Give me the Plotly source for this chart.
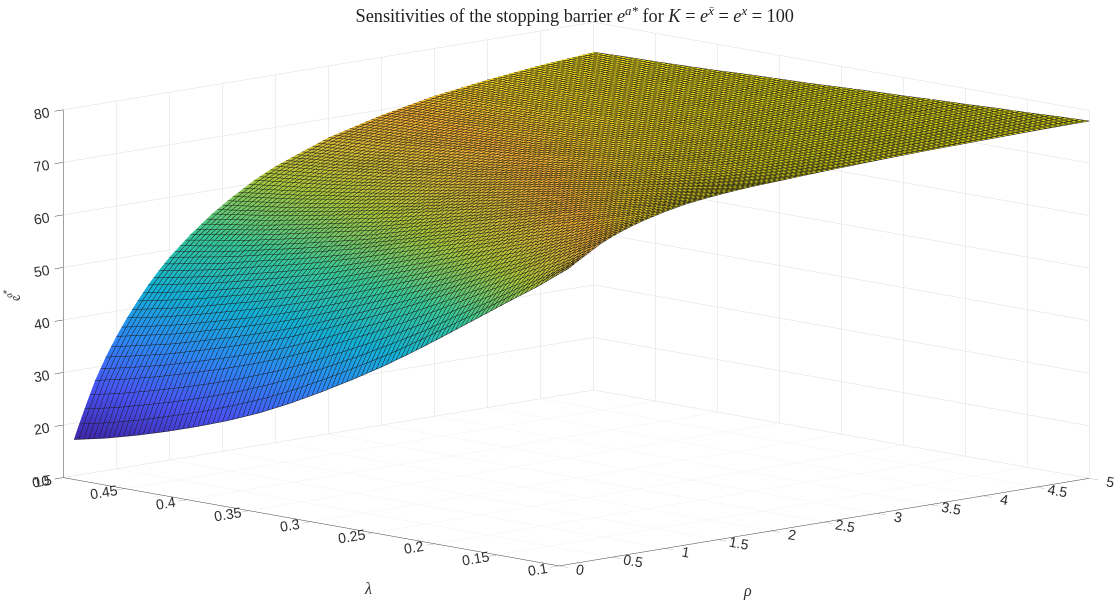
import plotly.graph_objects as go

rho = [0.1, 0.15, 0.2, 0.3, 0.4, 0.5, 0.6, 0.7, 0.8, 0.9, 1, 1.2, 1.4, 1.6, 1.8, 2, 2.5, 3, 3.5, 4, 4.5, 5]
lam = [0.1, 0.125, 0.15, 0.175, 0.2, 0.225, 0.25, 0.275, 0.3, 0.325, 0.35, 0.375, 0.4, 0.425, 0.45, 0.475, 0.5]

# one column per rho, lambda going up
z_r010 = [66.4, 61.9, 57.8, 53.6, 49.4, 45.3, 41.4, 37.8, 34.4, 31.2, 28.3, 25.8, 23.6, 21.6, 19.8, 18.2, 16.9]
z_r015 = [67.1, 62.9, 59.0, 55.0, 51.1, 47.2, 43.5, 40.1, 36.8, 33.7, 30.9, 28.5, 26.3, 24.4, 22.6, 21.0, 19.7]
z_r020 = [67.7, 63.7, 60.1, 56.3, 52.7, 48.9, 45.5, 42.2, 39.1, 36.1, 33.4, 31.0, 28.9, 27.0, 25.3, 23.7, 22.4]
z_r030 = [68.9, 65.4, 62.2, 58.9, 55.6, 52.3, 49.1, 46.1, 43.3, 40.5, 38.0, 35.8, 33.8, 32.0, 30.3, 28.8, 27.5]
z_r040 = [70.1, 67.0, 64.1, 61.1, 58.1, 55.1, 52.2, 49.4, 46.8, 44.2, 41.8, 39.7, 37.8, 36.0, 34.3, 32.9, 31.6]
z_r050 = [71.0, 68.2, 65.6, 62.8, 60.2, 57.4, 54.7, 52.2, 49.7, 47.3, 45.0, 43.0, 41.2, 39.5, 37.8, 36.5, 35.2]
z_r060 = [71.8, 69.3, 66.9, 64.4, 62.0, 59.5, 57.0, 54.7, 52.4, 50.1, 47.9, 46.0, 44.2, 42.6, 41.0, 39.6, 38.4]
z_r070 = [72.5, 70.2, 68.0, 65.8, 63.6, 61.3, 59.0, 56.8, 54.7, 52.5, 50.4, 48.7, 46.9, 45.4, 43.8, 42.5, 41.3]
z_r080 = [73.1, 71.0, 69.0, 67.0, 65.0, 62.9, 60.8, 58.7, 56.7, 54.7, 52.7, 51.0, 49.4, 47.9, 46.4, 45.2, 44.0]
z_r090 = [73.6, 71.7, 69.9, 68.0, 66.2, 64.2, 62.3, 60.4, 58.5, 56.6, 54.8, 53.1, 51.6, 50.2, 48.7, 47.5, 46.4]
z_r100 = [74.1, 72.4, 70.7, 69.0, 67.3, 65.4, 63.6, 61.8, 60.1, 58.3, 56.5, 55.0, 53.5, 52.2, 50.8, 49.7, 48.6]
z_r120 = [74.9, 73.4, 71.9, 70.4, 69.0, 67.4, 65.8, 64.2, 62.6, 61.0, 59.4, 58.1, 56.8, 55.5, 54.3, 53.3, 52.3]
z_r140 = [75.4, 74.1, 72.8, 71.5, 70.2, 68.8, 67.4, 66.0, 64.7, 63.3, 61.9, 60.7, 59.5, 58.4, 57.3, 56.4, 55.5]
z_r160 = [75.8, 74.7, 73.5, 72.4, 71.2, 70.0, 68.8, 67.5, 66.3, 65.1, 63.8, 62.8, 61.7, 60.8, 59.8, 59.0, 58.2]
z_r180 = [76.1, 75.1, 74.1, 73.1, 72.1, 71.0, 69.9, 68.8, 67.7, 66.6, 65.6, 64.6, 63.7, 62.8, 62.0, 61.3, 60.6]
z_r200 = [76.3, 75.4, 74.5, 73.6, 72.7, 71.8, 70.8, 69.9, 68.9, 67.9, 67.0, 66.2, 65.3, 64.6, 63.8, 63.2, 62.6]
z_r250 = [76.8, 76.1, 75.4, 74.8, 74.1, 73.4, 72.6, 71.9, 71.2, 70.5, 69.7, 69.1, 68.5, 67.9, 67.3, 66.9, 66.4]
z_r300 = [77.2, 76.7, 76.1, 75.6, 75.1, 74.5, 73.9, 73.3, 72.8, 72.2, 71.6, 71.1, 70.6, 70.2, 69.7, 69.4, 69.0]
z_r350 = [77.5, 77.1, 76.7, 76.2, 75.8, 75.4, 74.9, 74.4, 74.0, 73.5, 73.1, 72.7, 72.3, 71.9, 71.6, 71.3, 71.0]
z_r400 = [77.7, 77.4, 77.0, 76.7, 76.3, 75.9, 75.6, 75.2, 74.8, 74.5, 74.1, 73.8, 73.5, 73.2, 72.9, 72.6, 72.4]
z_r450 = [77.9, 77.6, 77.3, 77.0, 76.8, 76.4, 76.1, 75.8, 75.5, 75.2, 74.9, 74.6, 74.4, 74.1, 73.9, 73.7, 73.5]
z_r500 = [78.0, 77.8, 77.5, 77.3, 77.0, 76.8, 76.5, 76.3, 76.0, 75.7, 75.5, 75.3, 75.0, 74.8, 74.6, 74.5, 74.3]
columns = [z_r010, z_r015, z_r020, z_r030, z_r040, z_r050, z_r060, z_r070, z_r080, z_r090, z_r100,
           z_r120, z_r140, z_r160, z_r180, z_r200, z_r250, z_r300, z_r350, z_r400, z_r450, z_r500]
z = [list(row) for row in zip(*columns)]

rho_ticks = [0, 0.5, 1, 1.5, 2, 2.5, 3, 3.5, 4, 4.5, 5]
rho_labels = ["0", "0.5", "1", "1.5", "2", "2.5", "3", "3.5", "4", "4.5", "5"]
lam_ticks = [0.1, 0.15, 0.2, 0.25, 0.3, 0.35, 0.4, 0.45, 0.5]
lam_labels = ["0.1", "0.15", "0.2", "0.25", "0.3", "0.35", "0.4", "0.45", "0.5"]
z_ticks = [10, 20, 30, 40, 50, 60, 70, 80]

parula = [
    [0, "#3e26a8"], [0.125, "#4852f4"], [0.25, "#2d87f7"], [0.375, "#12b1d6"],
    [0.5, "#37c897"], [0.625, "#abc739"], [0.74, "#f6b033"], [0.78, "#f2d020"], [0.83, "#e6e010"], [1, "#f9fb15"],
]

fig = go.Figure(go.Surface(
    x=rho, y=lam, z=z,
    colorscale=parula, cmin=17, cmax=88, showscale=False, hoverinfo="skip",
    lighting=dict(ambient=1, diffuse=0, specular=0, roughness=1, fresnel=0),
    contours=dict(
        x=dict(show=True, start=0.1, end=5, size=0.05, color="#1a1a1a", width=1),
        y=dict(show=True, start=0.1, end=0.5, size=0.004, color="#1a1a1a", width=1),
    ),
))

axis_style = dict(
    showgrid=True, gridcolor="#dedede", gridwidth=1, showbackground=False,
    showline=True, linecolor="#404040", linewidth=1, ticks="outside", ticklen=12,
    tickcolor="#404040", tickfont=dict(family="Liberation Sans", size=13, color="#303030"),
    zeroline=False, showspikes=False, title=dict(text=""),
)

label_font = dict(family="Liberation Serif", size=16, color="#303030")

fig.update_layout(
    width=1116, height=612,
    margin=dict(l=0, r=0, t=0, b=0),
    paper_bgcolor="white",
    title=dict(
        text="Sensitivities of the stopping barrier <i>e<sup>a*</sup></i> for <i>K</i> = <i>e<sup>x̄</sup></i> = <i>e<sup>x</sup></i> = 100",
        font=dict(family="Liberation Serif", size=18.3, color="#222222"),
        x=0.515, xanchor="center", y=0.974, yanchor="middle",
    ),
    scene=dict(
        domain=dict(x=[0, 1], y=[0, 1]),
        aspectmode="manual",
        aspectratio=dict(x=2.406, y=2.336, z=1.22),
        camera=dict(
            projection=dict(type="orthographic"),
            eye=dict(x=-2.8185, y=-2.8408, z=0.657),
            center=dict(x=-0.0415, y=0.0432, z=-0.04),
            up=dict(x=0, y=0, z=1),
        ),
        xaxis=dict(range=[0, 5], tickvals=rho_ticks, ticktext=rho_labels, **axis_style),
        yaxis=dict(range=[0.1, 0.5], tickvals=lam_ticks, ticktext=lam_labels, **axis_style),
        zaxis=dict(range=[10, 80], tickvals=z_ticks, **axis_style),
    ),
    annotations=[
        dict(text="<i>ρ</i>", x=747 / 1116, y=1 - 591 / 612, xref="paper", yref="paper",
             xanchor="center", yanchor="middle", showarrow=False, font=label_font),
        dict(text="<i>λ</i>", x=368 / 1116, y=1 - 588 / 612, xref="paper", yref="paper",
             xanchor="center", yanchor="middle", showarrow=False, font=label_font),
        dict(text="<i>e<sup>a*</sup></i>", x=12 / 1116, y=1 - 295 / 612, xref="paper", yref="paper",
             xanchor="center", yanchor="middle", showarrow=False, textangle=-120,
             font=dict(family="Liberation Serif", size=14, color="#303030")),
    ],
)

# the default body margin pushes the fixed-size plot off the right edge
fig.write_html("out.html", config=dict(displayModeBar=False),
               post_script="document.body.style.margin = '0';")
